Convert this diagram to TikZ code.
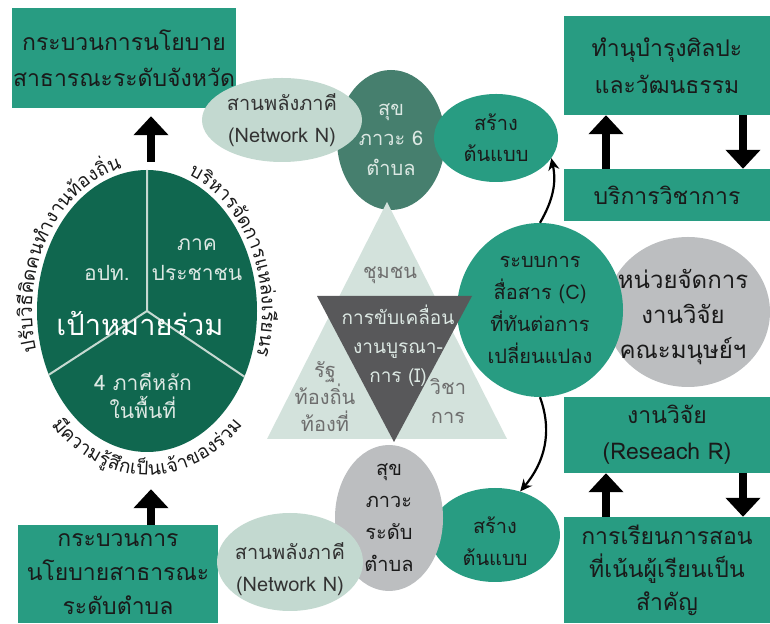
\documentclass[tikz,border=0pt]{standalone}
\usepackage{fontspec}
\setmainfont[Script=Thai]{Loma}
\usetikzlibrary{shapes.geometric,arrows.meta,decorations.text}
\definecolor{boxteal}{HTML}{289C82}
\definecolor{goalgreen}{HTML}{10674F}
\definecolor{healthdark}{HTML}{467F6E}
\definecolor{netlight}{HTML}{C3D9D0}
\definecolor{trilight}{HTML}{D3E2DC}
\definecolor{tridark}{HTML}{58585A}
\definecolor{unitgray}{HTML}{BCBEC0}
\definecolor{splitline}{HTML}{C6D9D1}
\definecolor{paletext}{HTML}{DCE8E3}
\definecolor{tritext}{HTML}{6E6E6E}
\definecolor{nettext}{HTML}{333333}
\definecolor{darktext}{HTML}{1A1A1A}
\begin{document}
\begin{tikzpicture}[x=1pt,y=1pt]
\tikzstyle{every node}+=[inner sep=0pt, align=center]
\tikzstyle{tealbox}=[rectangle, fill=boxteal, text=darktext, minimum width=206]
\tikzstyle{blob}=[ellipse]
\tikzstyle{blockarrow}=[line width=7.5pt, -{Triangle[width=34pt,length=19pt]}]
\tikzstyle{bendarrow}=[line width=2.2pt, -{Stealth[length=12pt,width=11pt]}]
\tikzstyle{rimtext}=[decorate, decoration={text along path, text align=fit to path}]
\useasboundingbox (0,0) rectangle (770,623);
\node [tealbox, minimum width=224, minimum height=100, font=\fontsize{23}{36}\selectfont] (provbox) at (124,565) {กระบวนการนโยบาย\\สาธารณะระดับจังหวัด};
\node [tealbox, minimum height=99, font=\fontsize{23}{37}\selectfont] (arts) at (667,557.5) {ทำนุบำรุงศิลปะ\\และวัฒนธรรม};
\node [tealbox, minimum height=52, font=\fontsize{23}{37}\selectfont] (service) at (667,428) {บริการวิชาการ};
\node [tealbox, minimum height=76, font=\fontsize{23}{36}\selectfont] (research) at (667,188) {งานวิจัย\\(Reseach R)};
\node [tealbox, minimum height=106, font=\fontsize{23}{33}\selectfont] (teach) at (667,53) {การเรียนการสอน\\ที่เน้นผู้เรียนเป็น\\สำคัญ};
\node [tealbox, minimum width=200, minimum height=98, font=\fontsize{23}{34}\selectfont] (distbox) at (118,49) {กระบวนการ\\นโยบายสาธารณะ\\ระดับตำบล};
\node [blob, fill=goalgreen, minimum width=220, minimum height=282] (goal) at (147,312) {};
\draw [splitline, line width=2pt] (goal.north) -- (goal.center) -- (goal.213);
\draw [splitline, line width=2pt] (goal.center) -- (goal.-34);
\node [text=paletext, font=\fontsize{21}{30}\selectfont] (lao) at (107,350) {อปท.};
\node [text=paletext, font=\fontsize{21}{30}\selectfont] (people) at (197,363) {ภาค\\ประชาชน};
\node [text=white, font=\fontsize{29}{30}\selectfont] (goaltext) at (140,300) {เป้าหมายร่วม};
\node [text=paletext, font=\fontsize{21}{28}\selectfont] (partners) at (143,227) {4 ภาคีหลัก\\ในพื้นที่};
\path [rimtext, decoration={text={|\fontsize{19}{19}\selectfont\color{darktext}|{ป}{รั}{บ}{วิ}{ธี}{คิ}{ด}{ค}{น}{ทำ}{ง}{า}{น}{ท้}{อ}{ง}{ถิ่}{น}}}] (goal.center) ++(196:115pt and 146pt) arc [start angle=196, end angle=103, x radius=115pt, y radius=146pt];
\path [rimtext, decoration={text={|\fontsize{19}{19}\selectfont\color{darktext}|{บ}{ริ}{ห}{า}{ร}{จั}{ด}{ก}{า}{ร}{แ}{ห}{ล่}{ง}{เ}{รี}{ย}{น}{รู้}}}] (goal.center) ++(69:115pt and 146pt) arc [start angle=69, end angle=-16, x radius=115pt, y radius=146pt];
\path [rimtext, decoration={text={|\fontsize{19}{19}\selectfont\color{darktext}|{มี}{ค}{ว}{า}{ม}{รู้}{สึ}{ก}{เ}{ป็}{น}{เ}{จ้}{า}{ข}{อ}{ง}{ร่}{ว}{ม}}}] (goal.center) ++(224:133pt and 164pt) arc [start angle=224, end angle=316, x radius=133pt, y radius=164pt];
\node [blob, fill=healthdark, minimum width=108, minimum height=140] (health6) at (391,483) {};
\node [text=paletext, font=\fontsize{20}{30}\selectfont] (health6text) at (health6) {สุข\\ภาวะ 6\\ตำบล};
\node [blob, fill=netlight, minimum width=160, minimum height=84] (net1) at (282,503) {};
\node [text=nettext, font=\fontsize{20}{32}\selectfont] (net1text) at (net1) {สานพลังภาคี\\(Network N)};
\node [blob, fill=boxteal, minimum width=124, minimum height=88] (proto1) at (496,485) {};
\node [text=darktext, font=\fontsize{20}{31}\selectfont] (proto1text) at (proto1) {สร้าง\\ต้นแบบ};
\node [blob, fill=unitgray, minimum width=164, minimum height=150] (unit) at (688,311) {};
\node [text=darktext, font=\fontsize{24}{35}\selectfont] (unittext) at ([xshift=-5pt,yshift=-5pt]unit) {หน่วยจัดการ\\งานวิจัย\\คณะมนุษย์ฯ};
\node [blob, fill=boxteal, minimum width=166, minimum height=174] (comm) at (540,313) {};
\node [text=darktext, font=\fontsize{20}{32}\selectfont] (commtext) at (comm) {ระบบการ\\สื่อสาร (C)\\ที่ทันต่อการ\\เปลี่ยนแปลง};
\fill [trilight] (387,421) -- (267,184) -- (507,184) -- cycle;
\fill [tridark] (317,327) -- (472,327) -- (394,181) -- cycle;
\node [text=paletext, font=\fontsize{19}{29}\selectfont] (drive) at (398,277) {การขับเคลื่อน\\งานบูรณา-\\การ (I)};
\node [text=tritext, font=\fontsize{20}{28}\selectfont] (community) at (390,348) {ชุมชน};
\node [text=tritext, font=\fontsize{20}{27}\selectfont] (state) at (325,226) {รัฐ\\ท้องถิ่น\\ท้องที่};
\node [text=tritext, font=\fontsize{20}{29}\selectfont] (academic) at (448,222) {วิชา\\การ};
\node [blob, fill=boxteal, minimum width=130, minimum height=94] (proto2) at (495,88) {};
\node [text=darktext, font=\fontsize{20}{32}\selectfont] (proto2text) at ([yshift=-6pt]proto2) {สร้าง\\ต้นแบบ};
\node [blob, fill=unitgray, minimum width=108, minimum height=146] (health) at (389,105) {};
\node [text=darktext, font=\fontsize{20}{32}\selectfont] (healthtext) at (health) {สุข\\ภาวะ\\ระดับ\\ตำบล};
\node [blob, fill=netlight, minimum width=146, minimum height=98] (net2) at (290,61) {};
\node [text=nettext, font=\fontsize{20}{32}\selectfont] (net2text) at ([yshift=-7pt]net2) {สานพลังภาคี\\(Network N)};
\draw [blockarrow, shorten <=8pt, shorten >=8pt] ([xshift=4pt]goal.north) -- ([xshift=4pt]goal.north |- provbox.south);
\draw [blockarrow, shorten >=37pt] ([xshift=33pt]distbox.north) -- ([xshift=33pt]distbox.north |- goal.south);
\draw [blockarrow] ([xshift=-61pt]service.north) -- ([xshift=-61pt]arts.south);
\draw [blockarrow] ([xshift=76pt]arts.south) -- ([xshift=76pt]service.north);
\draw [blockarrow] ([xshift=-61pt]teach.north) -- ([xshift=-61pt]research.south);
\draw [blockarrow] ([xshift=76pt]research.south) -- ([xshift=76pt]teach.north);
\draw [bendarrow] (comm.north) to [out=60, in=-78] (proto1.-20);
\draw [bendarrow] (comm.south) to [out=-70, in=50] (proto2.60);
\end{tikzpicture}
\end{document}
